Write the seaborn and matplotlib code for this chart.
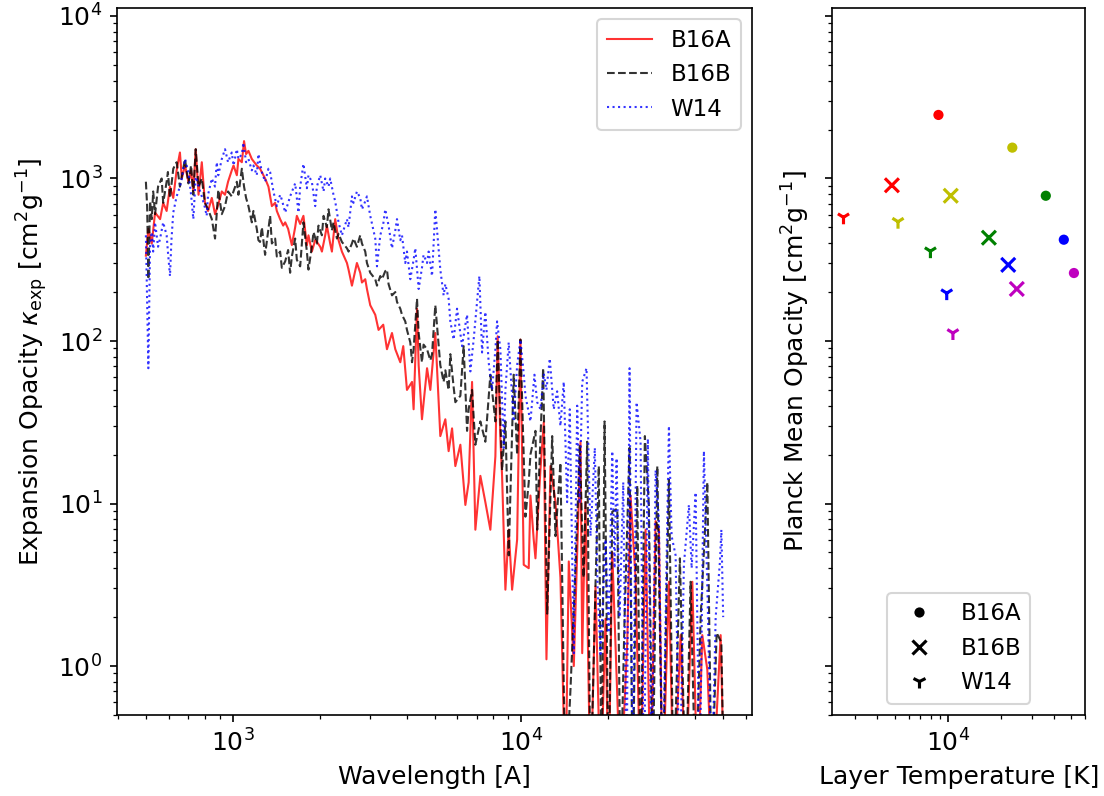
import numpy as np
import pandas as pd
import matplotlib
matplotlib.use("Agg")
import matplotlib.pyplot as plt
from matplotlib.lines import Line2D
import seaborn as sns

# ---------------- left panel: expansion opacity spectra ----------------
red_wl = [500, 510, 524, 538, 560, 574, 590, 606, 622, 639,
          656, 666, 683, 702, 717, 730, 744, 761, 781, 801,
          821, 846, 868, 891, 916, 940, 963, 992, 1006, 1033,
          1046, 1075, 1094, 1112, 1133, 1164, 1211, 1243, 1294, 1329,
          1366, 1402, 1421, 1459, 1495, 1519, 1555, 1602, 1645, 1667,
          1712, 1757, 1806, 1829, 1879, 1930, 1956, 2009, 2036, 2090,
          2118, 2175, 2205, 2264, 2325, 2388, 2486, 2518, 2587, 2692,
          2764, 2802, 2877, 2916, 2994, 3116, 3199, 3321, 3421, 3561,
          3656, 3805, 3896, 4013, 4178, 4231, 4348, 4405, 4523, 4710,
          4835, 5031, 5236, 5450, 5595, 5750, 5903, 6144, 6394, 6564,
          6745, 6925, 7207, 7499, 7805, 8124, 8275, 8455, 8570, 8800,
          9035, 9283, 9663, 9920, 10185, 10600, 10745, 11030, 11185, 11640,
          11950, 12210, 12607, 13120, 13650, 14207, 14590, 15186, 16020, 16240,
          16670, 17350, 18060, 18790, 19560, 20040, 20640, 21480, 22050, 23260,
          23880, 24850, 25870, 26920, 28020, 29160, 29940, 30830, 32430, 33670,
          35610, 37060, 39090, 40770, 42330, 44060, 45970, 49000, 50000]
red_k = [335, 490, 398, 617, 562, 708, 631, 891, 759, 1122,
         1445, 1000, 1202, 955, 1122, 832, 1514, 794, 1259, 708,
         631, 759, 603, 692, 832, 794, 955, 1122, 1202, 1047,
         1318, 1259, 1698, 1413, 1479, 1318, 1202, 1148, 1000, 891,
         676, 708, 631, 562, 513, 537, 490, 389, 501, 589,
         525, 589, 389, 447, 355, 417, 407, 380, 355, 447,
         513, 398, 355, 562, 417, 355, 302, 275, 219, 302,
         263, 229, 240, 209, 166, 145, 117, 126, 89, 112,
         89, 74, 93, 50, 56, 38, 158, 71, 33, 68,
         50, 112, 26, 33, 21, 29, 17, 23, 9.8, 13.5,
         56, 6.9, 14.8, 10.2, 6.9, 19.5, 107, 25, 14.8, 2.95,
         6.9, 2.95, 6.0, 102, 4.2, 4.0, 11.2, 6.0, 4.6, 16.2,
         31.6, 1.1, 17, 10.2, 3.5, 0.16, 4.4, 1.0, 24, 1.2,
         10.2, 0.16, 3.1, 0.16, 1.95, 0.16, 5.0, 0.66, 0.16, 1.41,
         11.2, 3.5, 0.16, 6.9, 0.16, 7.8, 6.9, 0.16, 3.3, 0.16,
         1.55, 0.16, 3.3, 0.16, 1.55, 0.95, 0.16, 1.55, 0.32]

black_wl = [500, 505, 510, 517, 524, 530, 538, 551, 567, 574,
            590, 596, 606, 622, 639, 656, 672, 683, 702, 717,
            730, 744, 761, 781, 801, 821, 846, 868, 891, 916,
            940, 963, 992, 1033, 1046, 1075, 1094, 1112, 1133, 1164,
            1179, 1211, 1227, 1243, 1261, 1294, 1329, 1347, 1366, 1402,
            1421, 1459, 1479, 1519, 1555, 1580, 1602, 1645, 1667, 1712,
            1757, 1806, 1829, 1879, 1904, 1956, 1981, 2036, 2063, 2118,
            2146, 2205, 2233, 2295, 2325, 2388, 2486, 2518, 2587, 2620,
            2692, 2764, 2802, 2877, 2916, 2994, 3116, 3159, 3243, 3287,
            3375, 3421, 3465, 3561, 3656, 3706, 3805, 3857, 3959, 4013,
            4121, 4178, 4231, 4348, 4405, 4523, 4581, 4710, 4835, 4901,
            5031, 5236, 5376, 5450, 5595, 5672, 5823, 5903, 6144, 6307,
            6481, 6564, 6745, 6925, 7207, 7499, 7805, 8124, 8275, 8570,
            8800, 9035, 9402, 9663, 9920, 10325, 10600, 10745, 11185, 11340,
            11482, 11893, 12280, 12780, 13120, 13650, 14207, 14790, 15390, 15930,
            16410, 16900, 17350, 18060, 18540, 18950, 19410, 20040, 20640, 21480,
            22050, 22770, 23690, 24270, 25190, 25870, 26770, 27640, 28480, 29560,
            30830, 32430, 33670, 35400, 37060, 38560, 40130, 41780, 44060, 45600,
            47460, 49280, 50000]
black_k = [955, 676, 240, 724, 562, 832, 603, 891, 1000, 708,
           955, 1096, 759, 1148, 1259, 891, 1122, 1318, 933, 1202,
           794, 1514, 891, 1000, 708, 646, 562, 427, 851, 603,
           676, 832, 776, 955, 794, 1148, 891, 759, 676, 537,
           631, 490, 417, 407, 501, 339, 490, 589, 398, 427,
           331, 355, 282, 309, 363, 263, 331, 427, 316, 288,
           537, 355, 275, 380, 468, 398, 513, 447, 589, 501,
           646, 479, 537, 427, 457, 407, 372, 355, 398, 427,
           380, 447, 398, 355, 302, 263, 240, 219, 251, 240,
           269, 275, 224, 191, 200, 174, 158, 145, 132, 117,
           98, 74, 89, 182, 112, 74, 95, 89, 76, 83,
           166, 71, 56, 66, 50, 83, 52, 42, 46, 93,
           28, 38, 50, 23, 32, 24, 62, 32, 102, 16,
           32, 4.8, 62, 20, 102, 8.3, 13.5, 20, 28, 6.9,
           13.5, 68, 2.1, 26, 6.3, 17.8, 0.16, 0.72, 4.0, 23,
           3.5, 24, 0.16, 3.2, 17, 0.16, 32, 0.16, 8.9, 9.3,
           0.16, 2.0, 22, 0.16, 12.9, 0.16, 26, 9.8, 0.16, 17,
           0.16, 14, 0.16, 4.6, 0.16, 3.3, 0.16, 2.0, 13.5, 0.16,
           1.6, 1.4, 0.32]

blue_wl = [500, 510, 517, 524, 530, 538, 551, 560, 574, 590,
           596, 606, 613, 622, 639, 656, 666, 683, 702, 717,
           730, 744, 761, 781, 801, 812, 821, 846, 868, 880,
           891, 916, 940, 963, 992, 1006, 1033, 1046, 1075, 1088,
           1112, 1133, 1164, 1179, 1211, 1227, 1261, 1294, 1329, 1347,
           1383, 1421, 1459, 1479, 1519, 1555, 1580, 1645, 1689, 1712,
           1757, 1806, 1829, 1879, 1930, 1956, 2009, 2063, 2090, 2146,
           2175, 2233, 2264, 2325, 2388, 2486, 2518, 2587, 2620, 2692,
           2764, 2802, 2877, 2916, 2994, 3116, 3159, 3243, 3321, 3375,
           3465, 3561, 3656, 3706, 3805, 3857, 3959, 4013, 4121, 4231,
           4289, 4405, 4523, 4581, 4710, 4770, 4901, 5031, 5236, 5376,
           5450, 5595, 5672, 5823, 5984, 6144, 6228, 6394, 6481, 6654,
           6831, 7020, 7150, 7306, 7499, 7700, 7912, 8124, 8235, 8455,
           8682, 8800, 9035, 9283, 9402, 9663, 9920, 10185, 10325, 10745,
           11095, 11340, 11640, 11950, 12210, 12537, 12940, 13298, 13650, 14016,
           14400, 14706, 15186, 15604, 15900, 16240, 16806, 17350, 17960, 18350,
           18790, 19560, 20040, 20640, 21020, 21360, 21880, 22530, 23130, 23690,
           24270, 25060, 25870, 26560, 27420, 28240, 29160, 29940, 30830, 32430,
           33140, 34210, 35320, 36550, 38040, 38880, 40130, 41440, 42870, 44180,
           45600, 47090, 48730, 49280, 50000]
blue_k = [447, 68, 398, 468, 355, 537, 380, 427, 537, 447,
          355, 251, 417, 617, 776, 891, 1000, 1318, 1096, 794,
          562, 1023, 891, 776, 661, 589, 794, 1000, 891, 1259,
          1047, 1318, 1514, 1259, 1445, 1202, 1514, 1318, 1413, 1660,
          1259, 1318, 1122, 1202, 1047, 1413, 1096, 955, 1148, 1096,
          832, 676, 794, 741, 617, 708, 776, 933, 617, 891,
          1230, 871, 1047, 955, 676, 891, 1047, 832, 1000, 891,
          1000, 794, 724, 537, 447, 562, 501, 776, 708, 832,
          759, 646, 724, 776, 589, 427, 288, 447, 525, 646,
          513, 372, 479, 562, 417, 447, 302, 355, 240, 316,
          372, 209, 282, 339, 302, 355, 251, 646, 275, 191,
          224, 182, 132, 102, 158, 112, 93, 126, 145, 65,
          102, 174, 251, 85, 151, 74, 50, 89, 132, 89,
          22, 50, 98, 45, 32, 71, 102, 63, 46, 32,
          62, 42, 38, 63, 50, 78, 38, 49, 30, 56,
          10.2, 38, 1.2, 40, 10, 56, 68, 6.3, 22, 3.2,
          1.15, 6.0, 1.6, 21, 4.0, 19, 2.0, 13.5, 0.16, 68,
          0.16, 42, 24, 0.16, 25, 0.16, 16, 7.9, 0.16, 30,
          6.3, 4.8, 0.16, 4.2, 9.8, 4.0, 11.7, 0.16, 21, 2.5,
          0.16, 2.0, 4.4, 6.9, 2.0]

series_names = ["B16A", "B16B", "W14"]

# ---------------- right panel: Planck mean opacity per layer ----------------
layers = ["L1", "L2", "L3", "L4", "L5"]
layer_colors = ["r", "y", "g", "b", "m"]
b16a_T = [8860, 23200, 35900, 45400, 51800]
b16a_k = [2460, 1548, 783, 420, 262]
b16b_T = [4830, 10400, 17100, 22000, 24600]
b16b_k = [908, 783, 432, 294, 209]
w14_T = [2570, 5230, 7980, 9870, 10700]
w14_k = [577, 542, 357, 197, 112]

# ---------------- figure ----------------
plt.rcParams['font.family'] = ['DejaVu Sans']
fig = plt.figure(figsize=(7.36, 5.3067), dpi=150)
ax1 = fig.add_axes([0.1060, 0.1018, 0.5752, 0.8882])
ax2 = fig.add_axes([0.7536, 0.1018, 0.2296, 0.8882], sharey=ax1)

ax1.set_xscale('log')
ax1.set_yscale('log')
sns.lineplot(x=red_wl, y=red_k, ax=ax1, color='r', alpha=0.8, lw=1.0,
             ls='-', label=series_names[0], estimator=None, sort=False)
sns.lineplot(x=black_wl, y=black_k, ax=ax1, color='k', alpha=0.8, lw=1.0,
             ls='--', label=series_names[1], estimator=None, sort=False)
sns.lineplot(x=blue_wl, y=blue_k, ax=ax1, color='b', alpha=0.8, lw=1.0,
             ls=':', label=series_names[2], estimator=None, sort=False)
ax1.set_ylim(0.5, 1.12e4)
ax1.set_xlabel('Wavelength [A]', fontsize=12)
ax1.set_ylabel(r'Expansion Opacity $\kappa_{\rm exp}$ [cm$^2$g$^{-1}$]', fontsize=12)
ax1.tick_params(labelsize=12)
ax1.legend(loc='upper right', fontsize=11)

ax2.set_xscale('log')
pal = dict(zip(layers, layer_colors))
sns.scatterplot(x=b16a_T, y=b16a_k, hue=layers, palette=pal, hue_order=layers,
                marker='o', s=24, edgecolor='none', legend=False, ax=ax2)
sns.scatterplot(x=b16b_T, y=b16b_k, hue=layers, palette=pal, hue_order=layers,
                marker='x', s=45, linewidth=1.5, legend=False, ax=ax2)
sns.scatterplot(x=w14_T, y=w14_k, hue=layers, palette=pal, hue_order=layers,
                marker='1', s=45, linewidth=1.5, legend=False, ax=ax2)
ax2.set_xlabel('Layer Temperature [K]', fontsize=12)
ax2.set_ylabel(r'Planck Mean Opacity [cm$^2$g$^{-1}$]', fontsize=12)
ax2.tick_params(labelsize=12, labelleft=False)

handles = [Line2D([], [], marker='o', color='k', ls='None', markersize=4.9, mec='none'),
           Line2D([], [], marker='x', color='k', ls='None', markersize=6.7, mew=1.5),
           Line2D([], [], marker='1', color='k', ls='None', markersize=6.7, mew=1.5)]
ax2.legend(handles, series_names, loc='lower center', fontsize=11)

fig.savefig('out.png', dpi=150)
